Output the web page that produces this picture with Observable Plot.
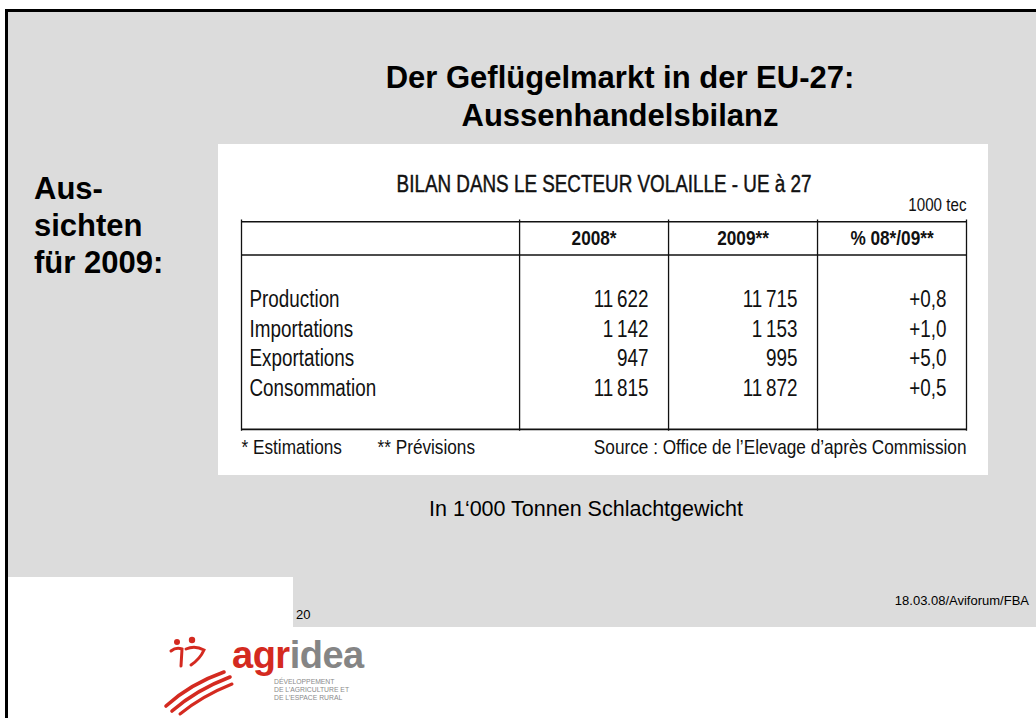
<!DOCTYPE html>
<html><head><meta charset="utf-8">
<script src="https://cdn.jsdelivr.net/npm/d3@7"></script>
<script src="https://cdn.jsdelivr.net/npm/@observablehq/plot@0.6"></script>
<style>
body{margin:0;background:#fff;font-family:"Liberation Sans",Arial,sans-serif}
#slide{position:relative;width:1036px;height:718px;overflow:hidden;background:#fff}
.abs{position:absolute}
#panel{position:absolute;left:218px;top:144px;width:770px;height:331px;background:#fff}
#panel svg{position:absolute;left:0;top:0;overflow:visible}
</style></head><body>
<div id="slide">
  <div class="abs" style="left:8px;top:12px;width:1028px;height:615px;background:#dcdcdc"></div>
  <div class="abs" style="left:8px;top:577px;width:285px;height:50px;background:#fff"></div>
  <div class="abs" style="left:5px;top:9px;width:1031px;height:3px;background:#000"></div>
  <div class="abs" style="left:5px;top:9px;width:3px;height:709px;background:#000"></div>

  <div class="abs" id="title" style="left:270px;top:59px;width:700px;text-align:center;font-weight:bold;font-size:31px;line-height:38px;color:#000">Der Geflügelmarkt in der EU-27:<br>Aussenhandelsbilanz</div>
  <div class="abs" id="side" style="left:34px;top:170px;font-weight:bold;font-size:31px;line-height:37px;color:#000">Aus-<br>sichten<br>für 2009:</div>

  <div id="panel"></div>

  <div class="abs" id="unit" style="left:286px;top:497px;width:600px;text-align:center;font-size:21.5px;color:#000">In 1‘000 Tonnen Schlachtgewicht</div>
  <div class="abs" style="left:296px;top:607px;font-size:13px;color:#000">20</div>
  <div class="abs" style="left:780px;top:593px;width:249px;text-align:right;font-size:13px;color:#000">18.03.08/Aviforum/FBA</div>

  <svg class="abs" style="left:160px;top:630px" width="220" height="88" viewBox="0 0 220 88">
    <g fill="none" stroke="#d42a20" stroke-linecap="round">
      <circle cx="17" cy="12" r="3" fill="#d42a20" stroke="none"/>
      <circle cx="32" cy="10" r="3.2" fill="#d42a20" stroke="none"/>
      <path d="M11 21 Q16 17 22 19 L21 36" stroke-width="3"/>
      <path d="M26 19 Q35 15 44 20 Q40 29 31 35" stroke-width="3"/>
      <path d="M6 76 Q30 54 64 42" stroke-width="3.6"/>
      <path d="M12 81 Q36 60 70 47" stroke-width="3.6"/>
      <path d="M20 84 Q42 66 72 54" stroke-width="3"/>
    </g>
    <text x="72" y="38" font-family="Liberation Sans, Arial, sans-serif" font-weight="bold" font-size="38" letter-spacing="-0.5"><tspan fill="#d42a20">agr</tspan><tspan fill="#858585">idea</tspan></text>
    <g font-family="Liberation Sans, Arial, sans-serif" font-size="6.8" fill="#8a8a8a">
      <text x="114" y="54">DÉVELOPPEMENT</text>
      <text x="114" y="62">DE L’AGRICULTURE ET</text>
      <text x="114" y="70">DE L’ESPACE RURAL</text>
    </g>
  </svg>
</div>
<script>
// ---- data ----
const rows = ["Production", "Importations", "Exportations", "Consommation"];
const values2008 = [11622, 1142, 947, 11815];
const values2009 = [11715, 1153, 995, 11872];
const change = [0.8, 1.0, 5.0, 0.5];
const headers = ["2008*", "2009**", "% 08*/09**"];
const tableTitle = "BILAN DANS LE SECTEUR VOLAILLE - UE à 27";
const unitLabel = "1000 tec";
const footEstim = "* Estimations";
const footPrev = "** Prévisions";
const sourceLabel = "Source : Office de l’Elevage d’après Commission";

// ---- formatting ----
const fr = d3.formatLocale({decimal: ",", thousands: "\u2009", grouping: [3], currency: ["", ""]});
const fmtInt = fr.format(",d");
const fmtPct = fr.format("+.1f");

// ---- table layout (column widths in table units, row positions in row units) ----
const colUnits = [28, 15, 15, 15];
const edges = [0, ...d3.cumsum(colUnits)];
const total = edges[edges.length - 1];
const L = {title: -3.88, unit: -3.17, top: -2.62, header: -2.05, headerLine: -1.5, bottom: 4.38, foot: 4.98};

const cells = rows.flatMap((r, i) => [
  {i, col: 1, label: fmtInt(values2008[i])},
  {i, col: 2, label: fmtInt(values2009[i])},
  {i, col: 3, label: fmtPct(change[i])}
]);
const headerCells = headers.map((h, k) => ({h, mid: (edges[k + 1] + edges[k + 2]) / 2}));
const rowCells = rows.map((r, i) => ({r, i}));

const font = '"Liberation Sans", Arial, sans-serif';
const ink = "#111";

const chart = Plot.plot({
  width: 770, height: 331,
  marginTop: 0, marginRight: 0, marginBottom: 0, marginLeft: 0,
  x: {type: "linear", domain: [0, total], range: [23, 748], axis: null},
  y: {type: "linear", domain: [0, rows.length - 1], range: [155, 244], axis: null},
  style: {fontFamily: font, fontSize: "23px", background: "transparent", color: ink},
  marks: [
    Plot.ruleY([L.top, L.headerLine, L.bottom], {x1: 0, x2: total, stroke: ink, strokeWidth: 1.7}),
    Plot.ruleX(edges, {y1: L.top - 0.06, y2: L.bottom + 0.06, stroke: ink, strokeWidth: 1.3}),
    Plot.text([tableTitle], {x: total / 2, y: L.title, fontSize: 23, fill: ink, stroke: ink, strokeWidth: 0.45}),
    Plot.text([unitLabel], {x: total, y: L.unit, textAnchor: "end", fontSize: 18.5, fill: ink}),
    Plot.text(headerCells, {x: "mid", y: L.header, text: "h", fontWeight: "bold", fontSize: 21, fill: ink}),
    Plot.text(rowCells, {x: 0, y: "i", text: "r", textAnchor: "start", dx: 8, fill: ink}),
    Plot.text(cells, {x: d => edges[d.col + 1], y: "i", text: "label", textAnchor: "end", dx: -20, fill: ink}),
    Plot.text([footEstim], {x: 0, y: L.foot, textAnchor: "start", fontSize: 21, fill: ink}),
    Plot.text([footPrev], {x: 0, y: L.foot, textAnchor: "start", dx: 136, fontSize: 21, fill: ink}),
    Plot.text([sourceLabel], {x: total, y: L.foot, textAnchor: "end", fontSize: 21, fill: ink})
  ]
});
// condensed (Arial Narrow-like) glyphs: squeeze each label horizontally around its anchor
chart.querySelectorAll("text").forEach(t => {
  const tr = t.getAttribute("transform") || "";
  t.setAttribute("transform", tr + " scale(0.82,1)");
});
document.getElementById("panel").appendChild(chart);
</script>
</body></html>
